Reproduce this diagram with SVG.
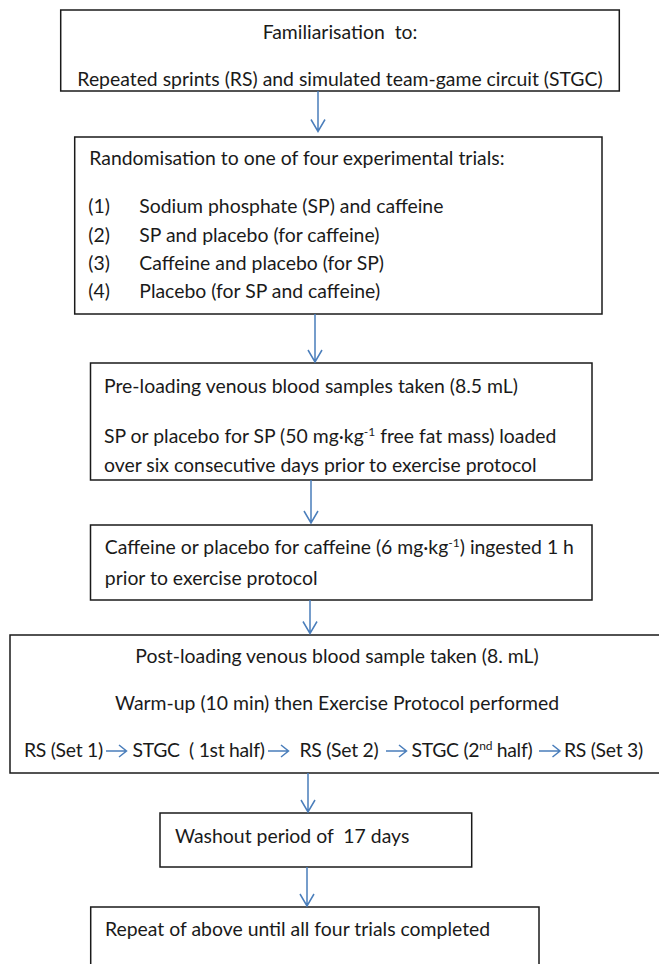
<svg xmlns="http://www.w3.org/2000/svg" width="659" height="964" viewBox="0 0 659 964">
<style>
.box{fill:#fff;stroke:#1a1a1a;stroke-width:1.5}
text{font-family:Lato,"Open Sans","Liberation Sans",sans-serif;font-size:19.4px;fill:#1a1a1a;white-space:pre}
.c{text-anchor:middle}
.row{letter-spacing:-0.3px}
.con{fill:none;stroke:#4a7ebb;stroke-width:1.5}
.sup{font-size:12px}
</style>
<rect width="659" height="964" fill="#fff"/>
<g id="n1">
<rect class="box" x="60.7" y="10" width="558.6" height="81"/>
<text class="c" x="340" y="38.7">Familiarisation  to:</text>
<text class="c" x="340" y="86">Repeated sprints (RS) and simulated team-game circuit (STGC)</text>
</g>
<g id="n2">
<rect class="box" x="74.7" y="137" width="527.3" height="177"/>
<text x="89.3" y="165">Randomisation to one of four experimental trials:</text>
<text x="88.3" y="213.3">(1)</text><text x="139.3" y="213.3">Sodium phosphate (SP) and caffeine</text>
<text x="88.3" y="241.7">(2)</text><text x="139.3" y="241.7">SP and placebo (for caffeine)</text>
<text x="88.3" y="270">(3)</text><text x="139.3" y="270">Caffeine and placebo (for SP)</text>
<text x="88.3" y="298.3">(4)</text><text x="139.3" y="298.3">Placebo (for SP and caffeine)</text>
</g>
<g id="n3">
<rect class="box" x="90.5" y="363" width="501.5" height="117"/>
<text x="104" y="392.5">Pre-loading venous blood samples taken (8.5 mL)</text>
<text x="104" y="442.5">SP or placebo for SP (50 mg·kg<tspan class="sup" dy="-7">-1</tspan><tspan dy="7"> free fat mass) loaded</tspan></text>
<text x="104" y="472">over six consecutive days prior to exercise protocol</text>
</g>
<g id="n4">
<rect class="box" x="90.5" y="525" width="501.5" height="75"/>
<text x="104.8" y="554">Caffeine or placebo for caffeine (6 mg·kg<tspan class="sup" dy="-7">-1</tspan><tspan dy="7">) ingested 1 h</tspan></text>
<text x="104.8" y="585">prior to exercise protocol</text>
</g>
<g id="n5">
<rect class="box" x="10" y="635" width="660" height="138"/>
<text class="c" x="337" y="663.3">Post-loading venous blood sample taken (8. mL)</text>
<text class="c" x="337" y="710">Warm-up (10 min) then Exercise Protocol performed</text>
<text class="row" x="24" y="757">RS (Set 1)</text>
<text class="row" x="132.5" y="757">STGC  ( 1st half)</text>
<text class="row" x="299.5" y="757">RS (Set 2)</text>
<text class="row" x="411.5" y="757">STGC (2<tspan class="sup" dy="-7">nd</tspan><tspan dy="7"> half)</tspan></text>
<text class="row" x="564" y="757">RS (Set 3)</text>
</g>
<g id="n6">
<rect class="box" x="160" y="813" width="311.7" height="54"/>
<text x="175" y="843">Washout period of  17 days</text>
</g>
<g id="n7">
<rect class="box" x="90.7" y="907" width="448.3" height="70"/>
<text x="105" y="936">Repeat of above until all four trials completed</text>
</g>
<g id="connectors">
<path class="con" d="M318 91V131.5M311 119.5L318 131.5L325 119.5"/>
<path class="con" d="M315 314V362M308 350L315 362L322 350"/>
<path class="con" d="M311 480V523M304 511L311 523L318 511"/>
<path class="con" d="M310 600V633.5M303 621.5L310 633.5L317 621.5"/>
<path class="con" d="M308 773V812M301 800L308 812L315 800"/>
<path class="con" d="M307 867V906M300 894L307 906L314 894"/>
<path class="con" d="M106 751H126.5M119 745L126.5 751L119 757"/>
<path class="con" d="M268 751H288.5M281 745L288.5 751L281 757"/>
<path class="con" d="M386 751H406.5M399 745L406.5 751L399 757"/>
<path class="con" d="M539 751H560M552.5 745L560 751L552.5 757"/>
</g>
</svg>
